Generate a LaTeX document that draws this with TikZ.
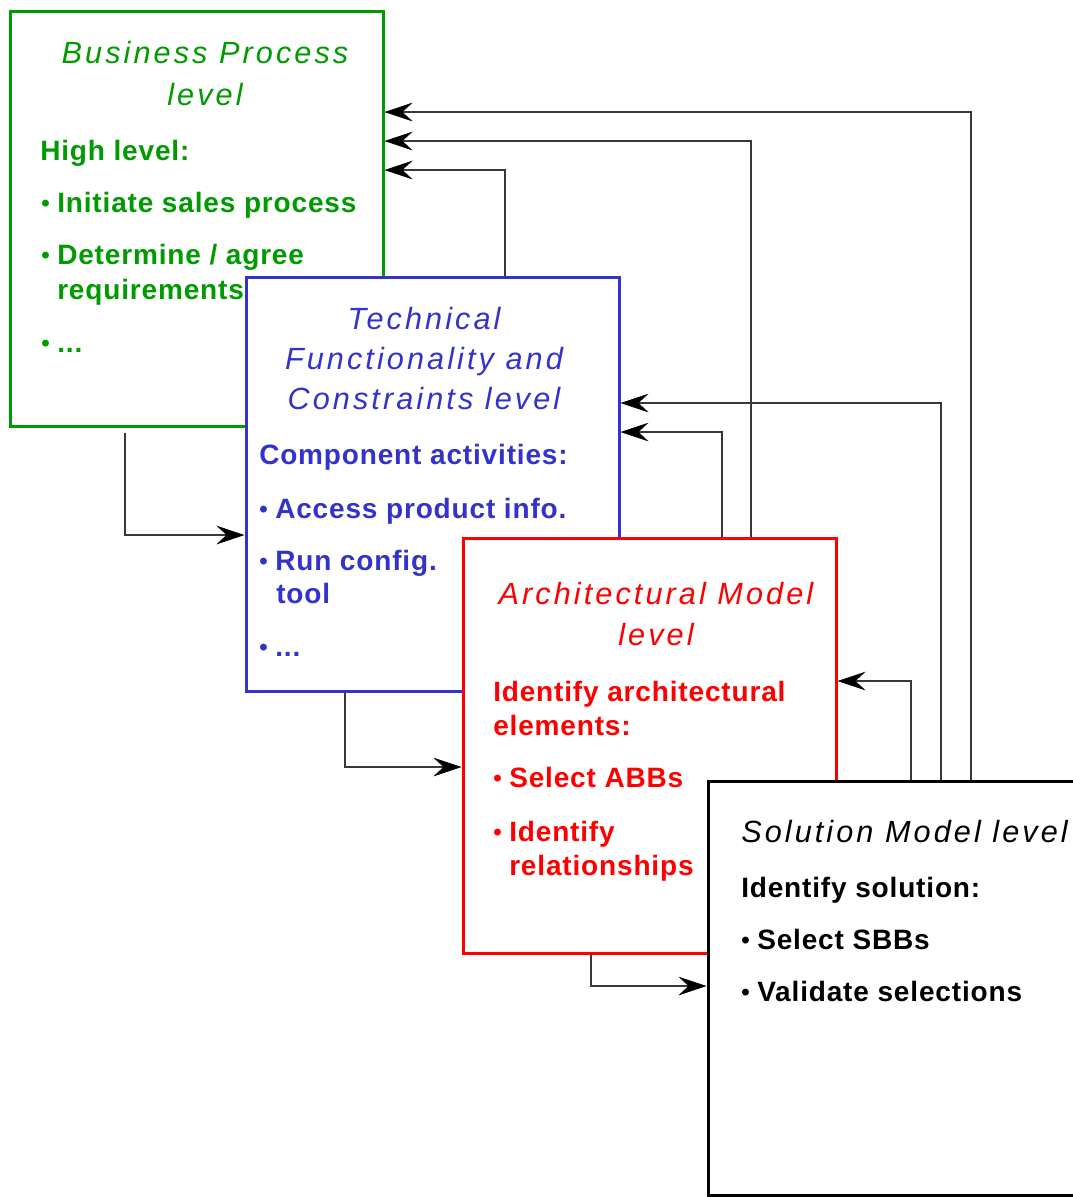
\documentclass[tikz,border=0pt]{standalone}
\usepackage{fontspec}
\setmainfont{Liberation Sans}
\newfontfamily\titlefont{Liberation Sans}[LetterSpace=10]
\newfontfamily\bodyfont{Liberation Sans}[LetterSpace=3]
\usetikzlibrary{arrows.meta,fit}
\definecolor{bpgreen}{RGB}{0,155,0}
\definecolor{tfblue}{RGB}{51,51,204}
\definecolor{amred}{RGB}{255,0,0}
\newcommand{\bul}{\makebox[12pt][l]{\raisebox{0.3pt}{\fontsize{18}{18}\selectfont\textbullet}}}
\begin{document}
\begin{tikzpicture}[x=0.75pt,y=-0.75pt,
  box/.style={draw, line width=2.25pt, fill=white, inner sep=0pt},
  ttl/.style={font=\titlefont\itshape\fontsize{23}{27}\selectfont, inner sep=0pt, anchor=base},
  ttll/.style={font=\titlefont\itshape\fontsize{23}{27}\selectfont, inner sep=0pt, anchor=base west},
  txt/.style={font=\bodyfont\bfseries\fontsize{21}{25}\selectfont, inner sep=0pt, anchor=base west},
  arr/.style={draw=black!78, line width=1.5pt, -{Stealth[length=21pt,width=14pt,inset=7.5pt,color=black,fill=black,line width=0.5pt]}}
]
\useasboundingbox (0,0) rectangle (1073,1197);
% boxes
\node[box, draw=bpgreen, fit={(10,11) (383,426)}] (bp) {};
\node[box, draw=tfblue, fit={(246,277) (619,691)}] (tech) {};
\node[box, draw=amred, fit={(463,538) (836,953)}] (arch) {};
\node[box, draw=black, fit={(708,781) (1100,1195)}] (sol) {};
% green texts
\begin{scope}[text=bpgreen]
\node[ttl] (bpt1) at (205,63) {Business Process};
\node[ttl] (bpt2) at (205,105) {level};
\node[txt] (bpa) at (40,160) {High level:};
\node[txt] (bpb) at (41,212) {\bul Initiate sales process};
\node[txt] (bpc) at (41,264) {\bul Determine / agree};
\node[txt] (bpd) at (57,299) {requirements};
\node[txt] (bpe) at (41,352) {\bul ...};
\end{scope}
% blue texts
\begin{scope}[text=tfblue]
\node[ttl] (tft1) at (424,329) {Technical};
\node[ttl] (tft2) at (424,369) {Functionality and};
\node[ttl] (tft3) at (424,409) {Constraints level};
\node[txt] (tfa) at (259,464) {Component activities:};
\node[txt] (tfb) at (259,518) {\bul Access product info.};
\node[txt] (tfc) at (259,570) {\bul Run config.};
\node[txt] (tfd) at (276,603) {tool};
\node[txt] (tfe) at (259,656) {\bul ...};
\end{scope}
% red texts
\begin{scope}[text=amred]
\node[ttl] (amt1) at (656,604) {Architectural Model};
\node[ttl] (amt2) at (656,645) {level};
\node[txt] (ama) at (493,701) {Identify architectural};
\node[txt] (amb) at (493,735) {elements:};
\node[txt] (amc) at (493,787) {\bul Select ABBs};
\node[txt] (amd) at (493,841) {\bul Identify};
\node[txt] (ame) at (509,875) {relationships};
\end{scope}
% black texts
\node[ttll] (smt) at (741,842) {Solution Model level};
\node[txt] (sma) at (741,897) {Identify solution:};
\node[txt] (smb) at (741,949) {\bul Select SBBs};
\node[txt] (smc) at (741,1001) {\bul Validate selections};
% feedback arrows
\draw[arr] (sol.north -| 971,0) |- (bp.east |- 0,112);
\draw[arr] (arch.north -| 751,0) |- (bp.east |- 0,141);
\draw[arr] (tech.north -| 505,0) |- (bp.east |- 0,170);
\draw[arr] (sol.north -| 941,0) |- (tech.east |- 0,403);
\draw[arr] (arch.north -| 722,0) |- (tech.east |- 0,432);
\draw[arr] (sol.north -| 911,0) |- (arch.east |- 0,681);
% forward arrows
\draw[arr] (bp.south -| 125,0) ++(0,5) |- (tech.west |- 0,535);
\draw[arr] (tech.south -| 345,0) |- (arch.west |- 0,767);
\draw[arr] (arch.south -| 591,0) |- (sol.west |- 0,986);
\end{tikzpicture}
\end{document}
